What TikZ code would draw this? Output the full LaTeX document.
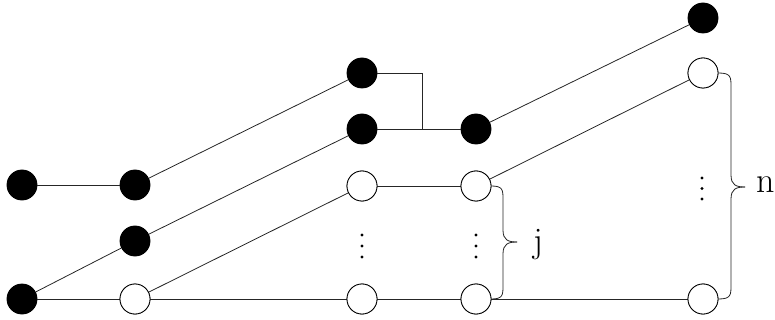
\documentclass[tikz,border=0pt]{standalone}
\usepackage{fontspec}
\setmainfont{Latin Modern Roman}
\begin{document}
\begin{tikzpicture}[x=1pt,y=-1pt,
  fnode/.style={circle,fill=black,draw=black,line width=0.8pt,minimum size=30pt,inner sep=0pt},
  onode/.style={circle,fill=white,draw=black,line width=0.8pt,minimum size=30pt,inner sep=0pt},
  edge/.style={line width=0.8pt,draw=black!85},
  dotmark/.style={fill=black},
  lab/.style={font=\fontsize{36pt}{40pt}\selectfont,inner sep=0pt,anchor=base west}]
\useasboundingbox (0,0) rectangle (775,320);
\node[fnode] (a1) at (22,185) {};
\node[fnode] (a2) at (135,185) {};
\node[fnode] (b0) at (22,299) {};
\node[fnode] (b1) at (135,241) {};
\node[onode] (c1) at (135,299) {};
\node[fnode] (d1) at (362,73) {};
\node[fnode] (d2) at (362,129) {};
\node[onode] (e1) at (362,186) {};
\node[onode] (e2) at (362,299) {};
\node[fnode] (f1) at (476,129) {};
\node[onode] (g1) at (476,186) {};
\node[onode] (g2) at (476,299) {};
\node[fnode] (h1) at (703,18) {};
\node[onode] (h2) at (703,73) {};
\node[onode] (h3) at (703,299) {};
\coordinate (k) at (422,129);
\draw[edge] (a1) -- (a2);
\draw[edge] (a2) -- (d1);
\draw[edge] (b0) -- (b1);
\draw[edge] (b1) -- (d2);
\draw[edge] (b0) -- (c1);
\draw[edge] (c1) -- (e2);
\draw[edge] (e2) -- (g2);
\draw[edge] (g2) -- (h3);
\draw[edge] (c1) -- (e1);
\draw[edge] (e1) -- (g1);
\draw[edge] (g1) -- (h2);
\draw[edge] (d2) -- (f1);
\draw[edge] (d1) -| (k);
\draw[edge] (f1) -- (h1);
% braces
\coordinate (jm) at (517,242);
\draw[edge] (g1.east) .. controls (503,186) and (503,190) .. (503,200) -- (503,230) .. controls (503,240) and (508,242) .. (jm);
\draw[edge] (g2.east) .. controls (503,299) and (503,295) .. (503,285) -- (503,254) .. controls (503,244) and (508,242) .. (jm);
\coordinate (nm) at (745,187);
\draw[edge] (h2.east) .. controls (731,73) and (731,77) .. (731,87) -- (731,175) .. controls (731,185) and (736,187) .. (nm);
\draw[edge] (h3.east) .. controls (731,299) and (731,295) .. (731,285) -- (731,199) .. controls (731,189) and (736,187) .. (nm);
% dots
\foreach \x in {362,476} {
  \fill[dotmark] (\x,235) circle (1.6);
  \fill[dotmark] (\x,246) circle (1.6);
  \fill[dotmark] (\x,257) circle (1.6);
}
\fill[dotmark] (702,178) circle (1.6);
\fill[dotmark] (702,188.5) circle (1.6);
\fill[dotmark] (702,199) circle (1.6);
\node[lab] (jl) at (533,252) {j};
\node[lab] (nl) at (756,193) {n};
% redraw nodes on top of edges
\foreach \n in {a1,a2,b0,b1,d1,d2,f1,h1} {\fill[black] (\n) circle (15);}
\foreach \n in {c1,e1,e2,g1,g2,h2,h3} {\filldraw[fill=white,draw=black,line width=0.8pt] (\n) circle (15);}
\end{tikzpicture}
\end{document}
